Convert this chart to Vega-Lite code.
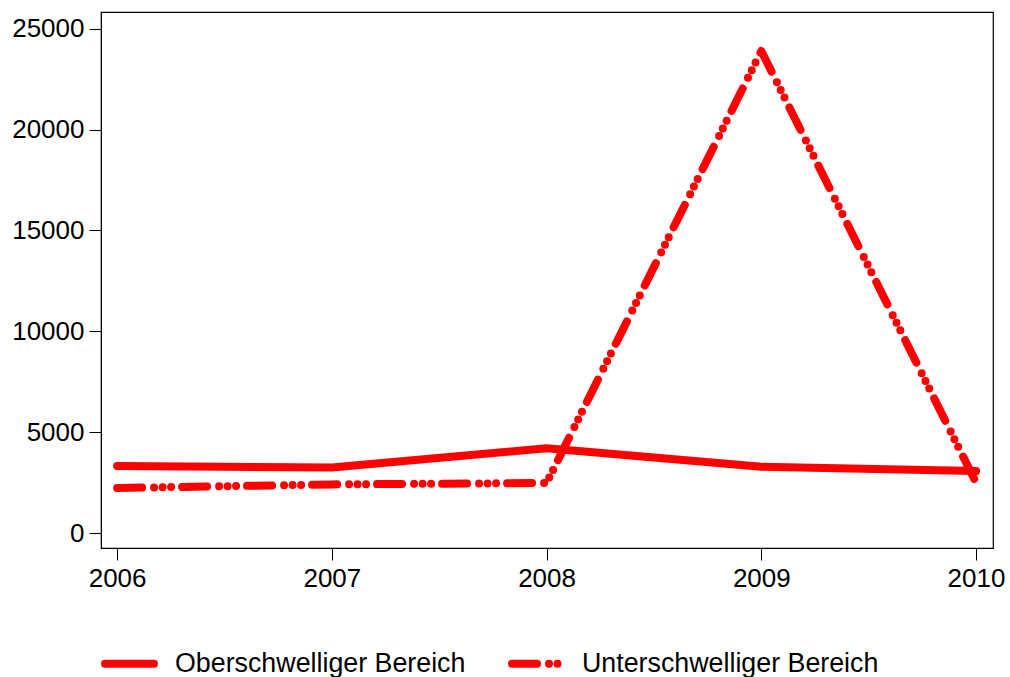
{
  "$schema": "https://vega.github.io/schema/vega-lite/v6.json",
  "width": 892,
  "height": 536,
  "autosize": "none",
  "padding": {"left": 101, "top": 12, "right": 17, "bottom": 129},
  "background": "white",
  "config": {
    "view": {"stroke": "#000", "strokeWidth": 1.2},
    "font": "Liberation Sans"
  },
  "data": {
    "values": [
      {"year": 2006, "value": 3320, "series": "Oberschwelliger Bereich"},
      {"year": 2007, "value": 3250, "series": "Oberschwelliger Bereich"},
      {"year": 2008, "value": 4200, "series": "Oberschwelliger Bereich"},
      {"year": 2009, "value": 3280, "series": "Oberschwelliger Bereich"},
      {"year": 2010, "value": 3070, "series": "Oberschwelliger Bereich"},
      {"year": 2006, "value": 2230, "series": "Unterschwelliger Bereich"},
      {"year": 2007, "value": 2410, "series": "Unterschwelliger Bereich"},
      {"year": 2008, "value": 2480, "series": "Unterschwelliger Bereich"},
      {"year": 2009, "value": 23900, "series": "Unterschwelliger Bereich"},
      {"year": 2010, "value": 2500, "series": "Unterschwelliger Bereich"}
    ]
  },
  "mark": {"type": "line", "strokeWidth": 8, "strokeCap": "round", "strokeJoin": "round", "color": "#ff0000"},
  "encoding": {
    "x": {
      "field": "year", "type": "quantitative",
      "scale": {"domain": [2005.925, 2010.079], "nice": false, "zero": false},
      "axis": {
        "title": null, "values": [2006, 2007, 2008, 2009, 2010], "format": "d",
        "grid": false, "labelFontSize": 26, "labelColor": "#000", "tickColor": "#000",
        "domainColor": "#000", "tickSize": 12, "labelPadding": 5, "labelFlush": false
      }
    },
    "y": {
      "field": "value", "type": "quantitative",
      "scale": {"domain": [-743, 25832], "nice": false, "zero": false},
      "axis": {
        "title": null, "values": [0, 5000, 10000, 15000, 20000, 25000], "format": "d",
        "grid": false, "labelFontSize": 26, "labelColor": "#000", "tickColor": "#000",
        "domainColor": "#000", "tickSize": 12, "labelPadding": 5
      }
    },
    "strokeDash": {
      "field": "series", "type": "nominal",
      "scale": {"domain": ["Oberschwelliger Bereich", "Unterschwelliger Bereich"], "range": [[1000, 1], [25, 12, 0, 8.5, 0, 8.5, 0, 11]]},
      "legend": {
        "title": null, "orient": "none", "legendX": 0, "legendY": 623,
        "direction": "horizontal", "symbolType": "stroke", "symbolStrokeWidth": 8,
        "symbolStrokeColor": "#ff0000", "symbolSize": 2400,
        "labelFontSize": 26.8, "labelColor": "#000", "labelOffset": 17, "columnPadding": 30,
        "labelLimit": 500, "symbolOffset": 0,
        "encode": {"symbols": {"update": {"strokeCap": {"value": "round"}}}}
      }
    }
  }
}
